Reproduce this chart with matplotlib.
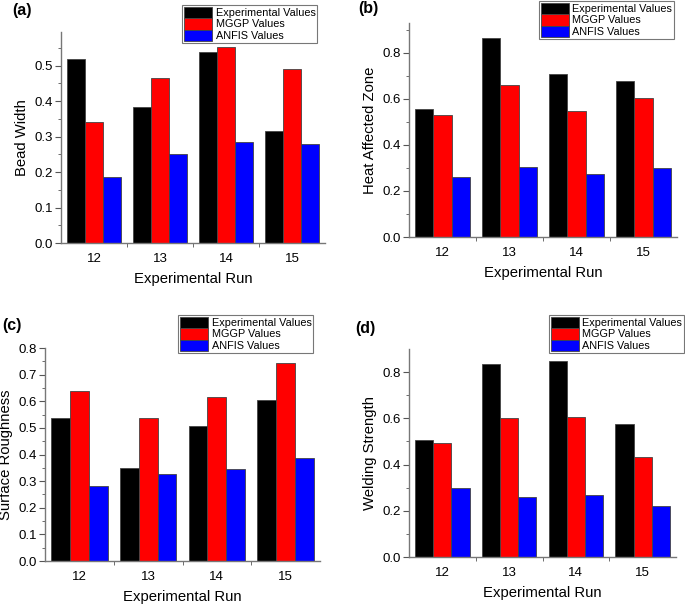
import numpy as np
import matplotlib.pyplot as plt

plt.rcParams["font.family"] = ["Liberation Sans", "DejaVu Sans"]

runs = [12, 13, 14, 15]
series = ["Experimental Values", "MGGP Values", "ANFIS Values"]
colors = ["black", "red", "blue"]

bead_exp = [0.519, 0.383, 0.539, 0.317]
bead_mggp = [0.341, 0.464, 0.553, 0.491]
bead_anfis = [0.186, 0.250, 0.284, 0.280]

haz_exp = [0.557, 0.864, 0.709, 0.677]
haz_mggp = [0.532, 0.661, 0.548, 0.604]
haz_anfis = [0.259, 0.303, 0.274, 0.299]

rough_exp = [0.536, 0.351, 0.506, 0.606]
rough_mggp = [0.637, 0.537, 0.616, 0.745]
rough_anfis = [0.282, 0.328, 0.347, 0.388]

weld_exp = [0.508, 0.834, 0.846, 0.574]
weld_mggp = [0.493, 0.601, 0.606, 0.433]
weld_anfis = [0.298, 0.260, 0.267, 0.219]

W, H = 685, 606
fig = plt.figure(figsize=(W / 100, H / 100), dpi=100)


def px_axes(l, t, r, b):
    return fig.add_axes([l / W, 1 - b / H, (r - l) / W, (b - t) / H])


panels = [
    dict(box=(61, 32, 325, 243), data=(bead_exp, bead_mggp, bead_anfis), ylabel="Bead Width",
         ylim=0.595, step=0.1, tag="(a)", tagpos=(12, 3), leg=(317, 5)),
    dict(box=(409, 23, 677, 237), data=(haz_exp, haz_mggp, haz_anfis), ylabel="Heat Affected Zone",
         ylim=0.93, step=0.2, tag="(b)", tagpos=(358, 1), leg=(674, 1)),
    dict(box=(45, 348, 320, 561), data=(rough_exp, rough_mggp, rough_anfis), ylabel="Surface Roughness",
         ylim=0.8, step=0.1, tag="(c)", tagpos=(2, 318), leg=(313, 315)),
    dict(box=(409, 349, 676, 557), data=(weld_exp, weld_mggp, weld_anfis), ylabel="Welding Strength",
         ylim=0.9, step=0.2, tag="(d)", tagpos=(355, 321), leg=(684, 315)),
]

x = np.arange(len(runs))
bw = 0.273
for p in panels:
    ax = px_axes(*p["box"])
    for i, (vals, c, name) in enumerate(zip(p["data"], colors, series)):
        ax.bar(x + (i - 1) * bw, vals, bw, color=c, edgecolor="#444444", linewidth=0.6, label=name)
    ax.set_xlim(-0.5, len(runs) - 0.5)
    ax.set_ylim(0, p["ylim"])
    ax.set_xticks(x)
    ax.set_xticklabels([str(r) for r in runs])
    ax.set_xticks(x[:-1] + 0.5, minor=True)
    yt = np.arange(0, p["ylim"] + 1e-9, p["step"])
    ax.set_yticks(yt)
    ax.set_yticklabels(["%.1f" % v for v in yt])
    ax.set_yticks(np.arange(p["step"] / 2, p["ylim"], p["step"]), minor=True)
    ax.tick_params(axis="x", which="major", length=0, labelsize=9.5, pad=7)
    ax.tick_params(axis="x", which="minor", length=3, color="#555555")
    ax.tick_params(axis="y", which="major", length=4, labelsize=9.5, color="#555555", pad=2)
    ax.tick_params(axis="y", which="minor", length=2, color="#555555")
    for s in ["top", "right"]:
        ax.spines[s].set_visible(False)
    for s in ["left", "bottom"]:
        ax.spines[s].set_color("#777777")
        ax.spines[s].set_linewidth(1.0)
    ax.set_xlabel("Experimental Run", fontsize=10.7, labelpad=5)
    ax.set_ylabel(p["ylabel"], fontsize=10.7, labelpad=4)
    lx, ly = p["leg"]
    leg = ax.legend(loc="upper right", bbox_to_anchor=(lx / W, 1 - ly / H),
                    bbox_transform=fig.transFigure, fontsize=7.8, frameon=True,
                    fancybox=False, borderpad=0.15, labelspacing=0.0, handlelength=2.6,
                    handleheight=1.25, handletextpad=0.35, borderaxespad=0)
    leg.get_frame().set_edgecolor("#555555")
    leg.get_frame().set_linewidth(0.8)
    tx, ty = p["tagpos"]
    fig.text(tx / W, 1 - ty / H, p["tag"], fontsize=11.5, fontweight="bold", va="top", ha="left")

fig.savefig("out.png", dpi=100)
